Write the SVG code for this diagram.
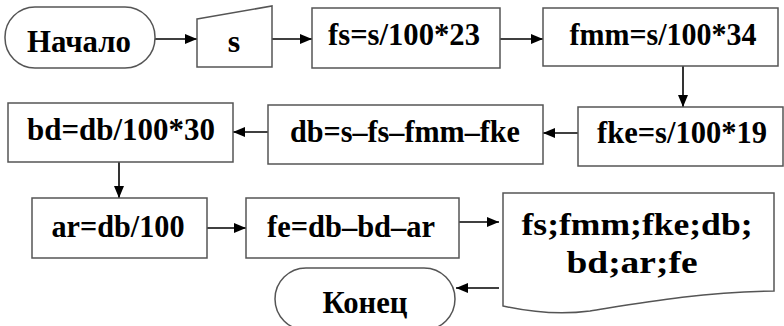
<svg xmlns="http://www.w3.org/2000/svg" width="784" height="326" viewBox="0 0 784 326">
<defs>
<style>
.b{fill:#fff;stroke:#555;stroke-width:1.5}
.c{stroke:#000;stroke-width:1.6;fill:none;marker-end:url(#ah)}
</style>
<marker id="ah" viewBox="0 0 12 10" refX="12" refY="5" markerWidth="12" markerHeight="10" markerUnits="userSpaceOnUse" orient="auto">
<path d="M0,0 L12,5 L0,10 Z" fill="#000"/>
</marker>
</defs>
<rect width="784" height="326" fill="#fff"/>
<g id="connectors">
<line class="c" x1="155" y1="39" x2="197" y2="39"/>
<line class="c" x1="272" y1="39" x2="312" y2="39"/>
<line class="c" x1="500" y1="39" x2="543" y2="39"/>
<line class="c" x1="683" y1="66" x2="683" y2="107"/>
<line class="c" x1="578" y1="133" x2="543" y2="133"/>
<line class="c" x1="268" y1="132" x2="233" y2="132"/>
<line class="c" x1="119" y1="162" x2="119" y2="198"/>
<line class="c" x1="207" y1="228" x2="246" y2="228"/>
<line class="c" x1="459" y1="222" x2="499" y2="222"/>
<line class="c" x1="499" y1="288" x2="456" y2="288"/>
</g>
<g font-family="Liberation Serif, Times New Roman, serif" font-weight="bold" font-size="32" fill="#000" text-anchor="middle">
<g id="start">
<rect class="b" x="5" y="7" width="150" height="61" rx="30" ry="30"/>
<text x="79" y="52" textLength="104" lengthAdjust="spacingAndGlyphs">Начало</text>
</g>
<g id="input">
<path class="b" d="M197,19 L272,6 L272,67 L197,67 Z"/>
<text x="234" y="52">s</text>
</g>
<g id="fs">
<rect class="b" x="312" y="8" width="188" height="60"/>
<text x="404" y="45" textLength="152" lengthAdjust="spacingAndGlyphs">fs=s/100*23</text>
</g>
<g id="fmm">
<rect class="b" x="543" y="8" width="235" height="58"/>
<text x="663" y="45" textLength="187" lengthAdjust="spacingAndGlyphs">fmm=s/100*34</text>
</g>
<g id="fke">
<rect class="b" x="578" y="107" width="205" height="59"/>
<text x="682" y="143" textLength="170" lengthAdjust="spacingAndGlyphs">fke=s/100*19</text>
</g>
<g id="db">
<rect class="b" x="268" y="105" width="275" height="59"/>
<text x="405" y="142" textLength="230" lengthAdjust="spacingAndGlyphs">db=s–fs–fmm–fke</text>
</g>
<g id="bd">
<rect class="b" x="8" y="103" width="225" height="59"/>
<text x="121" y="140" textLength="188" lengthAdjust="spacingAndGlyphs">bd=db/100*30</text>
</g>
<g id="ar">
<rect class="b" x="32" y="198" width="175" height="60"/>
<text x="118" y="237" textLength="133" lengthAdjust="spacingAndGlyphs">ar=db/100</text>
</g>
<g id="fe">
<rect class="b" x="246" y="198" width="213" height="60"/>
<text x="351" y="237" textLength="168" lengthAdjust="spacingAndGlyphs">fe=db–bd–ar</text>
</g>
<g id="output">
<path class="b" d="M503,193 H774 V291 C700,292 640,303 590,311 C560,315 530,312 503,306 Z"/>
<text x="637" y="235" textLength="231" lengthAdjust="spacingAndGlyphs">fs;fmm;fke;db;</text>
<text x="632" y="273" textLength="131" lengthAdjust="spacingAndGlyphs">bd;ar;fe</text>
</g>
<g id="end">
<rect class="b" x="275" y="268" width="180" height="62" rx="31" ry="31"/>
<text x="365" y="313" textLength="85" lengthAdjust="spacingAndGlyphs">Конец</text>
</g>
</g>
</svg>
